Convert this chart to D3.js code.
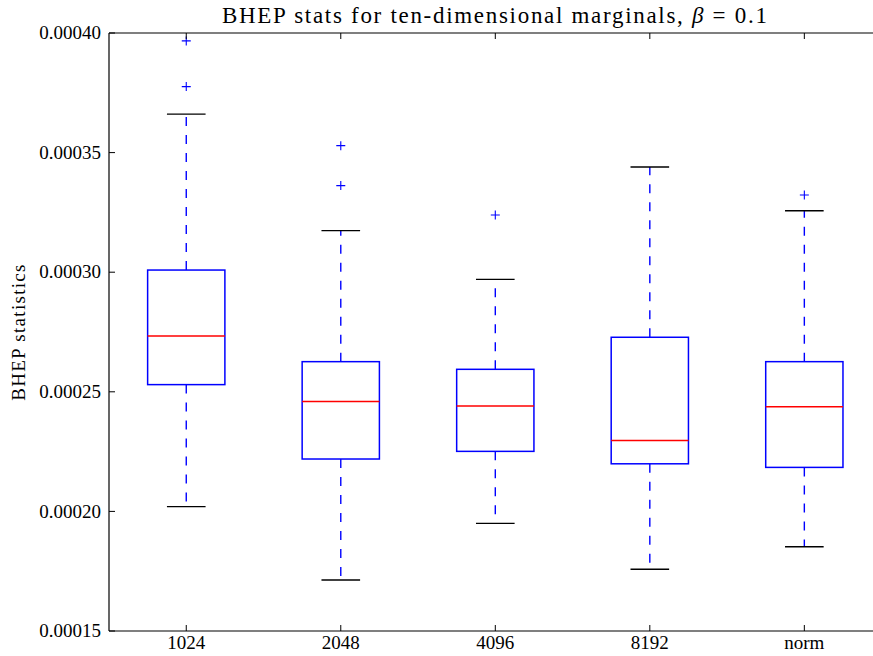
<!DOCTYPE html>
<html><head><meta charset="utf-8">
<script src="https://cdn.jsdelivr.net/npm/d3@7"></script>
<style>body{margin:0;background:#fff}svg{display:block}text{font-family:"Liberation Serif","Times New Roman",serif;fill:#000}</style>
</head><body><svg id="c" width="873" height="656"></svg>
<script>
const categories = ["1024","2048","4096","8192","norm"];
const whiskerLow  = [0.0002020,0.0001713,0.0001950,0.0001758,0.0001852];
const q1          = [0.0002530,0.0002219,0.0002251,0.0002199,0.0002184];
const medians     = [0.0002733,0.0002459,0.0002441,0.0002296,0.0002438];
const q3          = [0.0003009,0.0002626,0.0002594,0.0002728,0.0002626];
const whiskerHigh = [0.0003661,0.0003174,0.0002970,0.0003440,0.0003257];
const fliers      = [[0.0003967,0.0003776],[0.0003529,0.0003362],[0.0003239],[],[0.0003323]];
const yTicks = [0.00015,0.00020,0.00025,0.00030,0.00035,0.00040];
const yTickLabels = ["0.00015","0.00020","0.00025","0.00030","0.00035","0.00040"];

const svg = d3.select("#c");
const L=109, R=881.6, T=33, B=631;
const x = d3.scaleLinear().domain([0.5,5.5]).range([L,R]);
const y = d3.scaleLinear().domain([0.00015,0.00040]).range([B,T]);
const bw = x(1.25)-x(1);
const cw = x(1.125)-x(1);

const g = svg.append("g");
categories.forEach((c,i)=>{
  const cx = x(i+1);
  g.append("line").attr("x1",cx).attr("x2",cx).attr("y1",y(q1[i])).attr("y2",y(whiskerLow[i]))
    .attr("stroke","#0000ff").attr("stroke-width",1.4).attr("stroke-dasharray","9,9");
  g.append("line").attr("x1",cx).attr("x2",cx).attr("y1",y(q3[i])).attr("y2",y(whiskerHigh[i]))
    .attr("stroke","#0000ff").attr("stroke-width",1.4).attr("stroke-dasharray","9,9");
  [whiskerLow[i],whiskerHigh[i]].forEach(v=>{
    g.append("line").attr("x1",cx-cw).attr("x2",cx+cw).attr("y1",y(v)).attr("y2",y(v))
      .attr("stroke","#000").attr("stroke-width",1.4);
  });
  g.append("rect").attr("x",cx-bw).attr("width",2*bw).attr("y",y(q3[i])).attr("height",y(q1[i])-y(q3[i]))
    .attr("fill","none").attr("stroke","#0000ff").attr("stroke-width",1.5);
  g.append("line").attr("x1",cx-bw).attr("x2",cx+bw).attr("y1",y(medians[i])).attr("y2",y(medians[i]))
    .attr("stroke","#ff0000").attr("stroke-width",1.5);
  fliers[i].forEach(v=>{
    const py=y(v), s=4.5;
    g.append("path").attr("d",`M${cx-s},${py}H${cx+s}M${cx},${py-s}V${py+s}`)
      .attr("stroke","#0000ff").attr("stroke-width",1.1).attr("fill","none");
  });
});

const ax = svg.append("g").attr("stroke","#000").attr("stroke-width",1.2);
ax.append("line").attr("x1",L).attr("x2",873).attr("y1",T).attr("y2",T);
ax.append("line").attr("x1",L).attr("x2",873).attr("y1",B).attr("y2",B);
ax.append("line").attr("x1",L).attr("x2",L).attr("y1",T).attr("y2",B);

yTicks.forEach((v,i)=>{
  ax.append("line").attr("x1",L).attr("x2",L+6).attr("y1",y(v)).attr("y2",y(v)).attr("stroke-width",1);
  svg.append("text").attr("x",L-8).attr("y",y(v)).attr("dy","0.33em").attr("text-anchor","end")
    .attr("font-size",19).text(yTickLabels[i]);
});
categories.forEach((c,i)=>{
  const cx=x(i+1);
  ax.append("line").attr("x1",cx).attr("x2",cx).attr("y1",B).attr("y2",B-6).attr("stroke-width",1);
  ax.append("line").attr("x1",cx).attr("x2",cx).attr("y1",T).attr("y2",T+6).attr("stroke-width",1);
  svg.append("text").attr("x",cx).attr("y",B+18).attr("text-anchor","middle").attr("font-size",19).text(c);
});

const t = svg.append("text").attr("x",(L+R)/2).attr("y",22.5).attr("text-anchor","middle")
  .attr("font-size",23).attr("letter-spacing",1.7);
t.append("tspan").text("BHEP stats for ten-dimensional marginals, ");
t.append("tspan").attr("font-style","italic").text("β");
t.append("tspan").text(" = 0.1");

svg.append("text").attr("transform",`translate(25,${(T+B)/2}) rotate(-90)`).attr("text-anchor","middle")
  .attr("font-size",19).attr("letter-spacing",1.3).text("BHEP statistics");
</script></body></html>
